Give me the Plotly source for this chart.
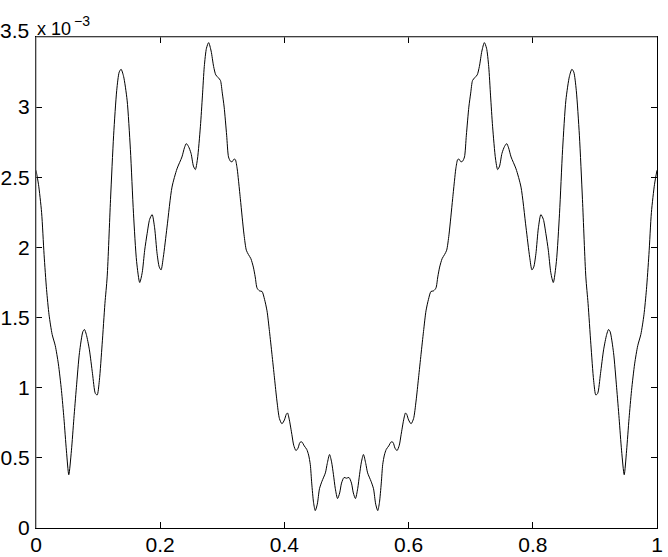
import plotly.graph_objects as go

# x positions (fraction of period) and values in units of 1e-3
x_vals = [
    0.000, 0.004, 0.009, 0.013, 0.017, 0.021, 0.026, 0.031, 0.036, 0.041,
    0.045, 0.049, 0.0528, 0.057, 0.061, 0.065, 0.070, 0.0755, 0.078, 0.081,
    0.086, 0.091, 0.0955, 0.0985, 0.102, 0.1065, 0.111, 0.1146, 0.120, 0.125,
    0.130, 0.134, 0.137, 0.141, 0.1467, 0.152, 0.157, 0.162, 0.167, 0.171,
    0.175, 0.179, 0.183, 0.187, 0.191, 0.195, 0.1985, 0.2014, 0.205, 0.211,
    0.219, 0.227, 0.235, 0.239, 0.242, 0.2455, 0.2497, 0.2535, 0.2566, 0.260,
    0.2647, 0.268, 0.271, 0.2745, 0.278, 0.282, 0.286, 0.2895, 0.2935, 0.297,
    0.300, 0.303, 0.307, 0.310, 0.313, 0.3157, 0.319, 0.321, 0.324, 0.326,
    0.329, 0.332, 0.335, 0.3387, 0.342, 0.346, 0.350, 0.353, 0.356, 0.360,
    0.364, 0.368, 0.372, 0.376, 0.380, 0.384, 0.388, 0.392, 0.396, 0.400,
    0.403, 0.405, 0.408, 0.412, 0.415, 0.4186, 0.422, 0.425, 0.428, 0.432,
    0.436, 0.439, 0.4417, 0.444, 0.447, 0.4497, 0.453, 0.4565, 0.4605, 0.466,
    0.469, 0.4727, 0.476, 0.479, 0.482, 0.4856, 0.489, 0.492, 0.496, 0.500,
    0.504, 0.508, 0.511, 0.5144, 0.518, 0.521, 0.524, 0.5273, 0.531, 0.534,
    0.5395, 0.5435, 0.547, 0.5503, 0.553, 0.556, 0.5583, 0.561, 0.564, 0.568,
    0.572, 0.575, 0.578, 0.5814, 0.585, 0.588, 0.592, 0.595, 0.597, 0.600,
    0.604, 0.608, 0.612, 0.616, 0.620, 0.624, 0.628, 0.632, 0.636, 0.640,
    0.644, 0.647, 0.650, 0.654, 0.658, 0.6613, 0.665, 0.668, 0.671, 0.674,
    0.676, 0.679, 0.681, 0.6843, 0.687, 0.690, 0.693, 0.697, 0.700, 0.703,
    0.7065, 0.7105, 0.714, 0.718, 0.722, 0.7255, 0.729, 0.732, 0.7353, 0.740,
    0.7434, 0.7465, 0.7503, 0.7545, 0.758, 0.761, 0.765, 0.773, 0.781, 0.789,
    0.795, 0.7986, 0.8015, 0.805, 0.809, 0.813, 0.817, 0.821, 0.825, 0.829,
    0.833, 0.838, 0.843, 0.848, 0.8533, 0.859, 0.863, 0.866, 0.870, 0.875,
    0.880, 0.8854, 0.889, 0.8935, 0.898, 0.9015, 0.9045, 0.909, 0.914, 0.919,
    0.922, 0.9245, 0.930, 0.935, 0.939, 0.943, 0.9472, 0.951, 0.955, 0.959,
    0.964, 0.969, 0.974, 0.979, 0.983, 0.987, 0.991, 0.996, 1.000,
]
y_vals = [
    2.55, 2.45, 2.25, 1.95, 1.70, 1.52, 1.38, 1.30, 1.17, 0.98,
    0.78, 0.55, 0.38, 0.55, 0.78, 1.00, 1.25, 1.40, 1.415, 1.38,
    1.27, 1.10, 0.96, 0.948, 1.05, 1.31, 1.60, 1.79, 2.34, 2.80,
    3.12, 3.25, 3.27, 3.22, 3.05, 2.70, 2.24, 1.90, 1.75, 1.82,
    1.98, 2.10, 2.20, 2.234, 2.14, 1.955, 1.86, 1.84, 1.93, 2.145,
    2.43, 2.56, 2.645, 2.71, 2.74, 2.72, 2.67, 2.58, 2.555, 2.63,
    2.86, 3.08, 3.29, 3.42, 3.46, 3.40, 3.29, 3.23, 3.21, 3.19,
    3.10, 3.00, 2.80, 2.645, 2.615, 2.61, 2.63, 2.626, 2.56, 2.48,
    2.35, 2.216, 2.09, 1.98, 1.95, 1.92, 1.86, 1.79, 1.71, 1.69,
    1.686, 1.63, 1.548, 1.40, 1.238, 1.07, 0.905, 0.78, 0.743, 0.77,
    0.81, 0.82, 0.77, 0.667, 0.59, 0.552, 0.57, 0.61, 0.614, 0.585,
    0.56, 0.52, 0.452, 0.32, 0.18, 0.124, 0.17, 0.28, 0.333, 0.393,
    0.46, 0.524, 0.47, 0.38, 0.28, 0.21, 0.25, 0.32, 0.36, 0.355,
    0.36, 0.32, 0.25, 0.21, 0.28, 0.38, 0.47, 0.524, 0.46, 0.393,
    0.333, 0.28, 0.17, 0.124, 0.18, 0.32, 0.452, 0.52, 0.56, 0.585,
    0.614, 0.61, 0.57, 0.552, 0.59, 0.667, 0.77, 0.82, 0.81, 0.77,
    0.743, 0.78, 0.905, 1.07, 1.238, 1.40, 1.548, 1.63, 1.686, 1.69,
    1.71, 1.79, 1.86, 1.92, 1.95, 1.98, 2.09, 2.216, 2.35, 2.48,
    2.56, 2.626, 2.63, 2.61, 2.615, 2.645, 2.80, 3.00, 3.10, 3.19,
    3.21, 3.23, 3.29, 3.40, 3.46, 3.42, 3.29, 3.08, 2.86, 2.63,
    2.555, 2.58, 2.67, 2.72, 2.74, 2.71, 2.645, 2.56, 2.43, 2.145,
    1.93, 1.84, 1.86, 1.955, 2.14, 2.234, 2.20, 2.10, 1.98, 1.82,
    1.75, 1.90, 2.24, 2.70, 3.05, 3.22, 3.27, 3.25, 3.12, 2.80,
    2.34, 1.79, 1.60, 1.31, 1.05, 0.948, 0.96, 1.10, 1.27, 1.38,
    1.415, 1.40, 1.25, 1.00, 0.78, 0.55, 0.38, 0.55, 0.78, 0.98,
    1.17, 1.30, 1.38, 1.52, 1.70, 1.95, 2.25, 2.45, 2.55,
]

x_ticks = [0, 0.2, 0.4, 0.6, 0.8, 1]
x_ticktext = ["0", "0.2", "0.4", "0.6", "0.8", "1"]
y_ticks = [0, 0.5, 1, 1.5, 2, 2.5, 3, 3.5]
y_ticktext = ["0", "0.5", "1", "1.5", "2", "2.5", "3", "3.5"]
exponent_base = "x 10"
exponent_power = "−3"

FONT = "Liberation Sans, Arial, Helvetica, sans-serif"

fig = go.Figure()
fig.add_trace(go.Scatter(
    x=x_vals, y=y_vals, mode="lines",
    line=dict(color="#000000", width=1, shape="spline", smoothing=0.7),
    hoverinfo="skip", showlegend=False,
))

axis_common = dict(
    showgrid=False, zeroline=False, showline=True, linecolor="#000000",
    linewidth=1, mirror="ticks", ticks="inside", ticklen=6, tickwidth=1,
    tickcolor="#000000", tickfont=dict(family=FONT, size=21, color="#000000"),
    automargin=False,
)
# the topmost y label sits a little higher in the original; drawn separately below
y_display = y_ticktext[:-1] + [""]
fig.update_xaxes(range=[0, 1], tickvals=x_ticks, ticktext=x_ticktext,
                 ticklabelstandoff=-2, **axis_common)
fig.update_yaxes(range=[0, 3.5], tickvals=y_ticks, ticktext=y_display,
                 ticklabelstandoff=1, **axis_common)

fig.update_layout(
    width=668, height=557,
    margin=dict(l=36, r=11, t=37, b=29, pad=0),
    plot_bgcolor="#ffffff", paper_bgcolor="#ffffff",
    shapes=[
        dict(type="line", xref="paper", yref="paper", x0=0, x1=1, y0=1, y1=1,
             line=dict(color="#808080", width=1), layer="above"),
        dict(type="line", xref="paper", yref="paper", x0=0, x1=0, y0=0, y1=1,
             line=dict(color="#808080", width=1), layer="above"),
    ],
    annotations=[
        dict(text=y_ticktext[-1], xref="paper", yref="y", x=0, y=y_ticks[-1],
             xanchor="right", yanchor="middle", showarrow=False,
             xshift=-5, yshift=7,
             font=dict(family=FONT, size=21, color="#000000")),
        dict(text=exponent_base, xref="paper", yref="paper", x=0, y=1,
             xanchor="left", yanchor="bottom", showarrow=False,
             xshift=-1, yshift=-4,
             font=dict(family=FONT, size=18, color="#000000")),
        dict(text=exponent_power, xref="paper", yref="paper", x=0, y=1,
             xanchor="left", yanchor="bottom", showarrow=False,
             xshift=36, yshift=6,
             font=dict(family=FONT, size=14, color="#000000")),
    ],
)

fig.write_html(
    "out.html",
    config={"displayModeBar": False},
    post_script="document.body.style.margin='0';document.body.style.overflow='hidden';",
)
